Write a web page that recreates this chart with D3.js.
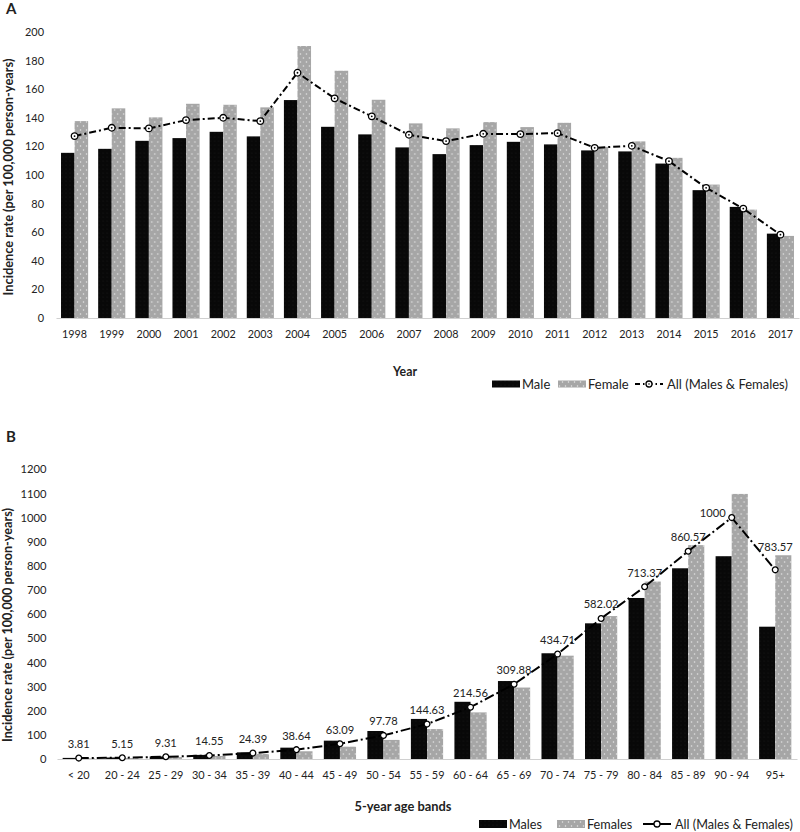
<!DOCTYPE html>
<html><head><meta charset="utf-8">
<script src="https://cdn.jsdelivr.net/npm/d3@7"></script>
<style>
body{margin:0;background:#fff}
text{font-family:Lato,"Open Sans",sans-serif;fill:#222}
</style>
</head><body><svg id="c" width="800" height="832"></svg>
<script>
// ---------- Panel A data ----------
const years = ["1998","1999","2000","2001","2002","2003","2004","2005","2006","2007","2008","2009","2010","2011","2012","2013","2014","2015","2016","2017"];
const maleA = [115.5,118.3,123.9,125.8,130.2,127.0,152.4,133.7,128.4,119.3,114.6,120.9,123.2,121.4,117.2,116.5,108.0,89.4,77.7,59.0];
const femaleA = [137.7,146.6,140.3,149.8,149.1,147.3,190.2,172.9,152.6,136.1,132.6,137.0,133.5,136.5,119.7,123.5,112.0,93.3,75.8,57.4];
const allA = [127.2,133.0,132.6,138.4,140.0,137.7,171.5,153.6,141.0,128.1,123.7,128.8,128.6,129.3,119.0,120.4,109.7,91.0,76.5,58.3];
const yTicksA = [0,20,40,60,80,100,120,140,160,180,200];

// ---------- Panel B data ----------
const ageBands = ["< 20","20 - 24","25 - 29","30 - 34","35 - 39","40 - 44","45 - 49","50 - 54","55 - 59","60 - 64","65 - 69","70 - 74","75 - 79","80 - 84","85 - 89","90 - 94","95+"];
const maleB = [4.6,6.2,10.5,17,27.6,47,76,116,166,237,323,438,562,667,790,840,548];
const femaleB = [3.0,4.1,8.0,12.5,21,32,51,79,124,193,296,428,592,735,886,1098,844];
const allB = [3.81,5.15,9.31,14.55,24.39,38.64,63.09,97.78,144.63,214.56,309.88,434.71,582.02,713.37,860.57,1000,783.57];
const yTicksB = [0,100,200,300,400,500,600,700,800,900,1000,1100,1200];

const svg = d3.select("#c");
const defs = svg.append("defs");
const pf = defs.append("pattern").attr("id","femaleFill").attr("patternUnits","userSpaceOnUse")
  .attr("width",6).attr("height",8);
pf.append("rect").attr("width",6).attr("height",8).attr("fill","#a6a6a6");
pf.append("circle").attr("cx",1.5).attr("cy",2).attr("r",0.75).attr("fill","#e6e6e6");
pf.append("circle").attr("cx",4.5).attr("cy",6).attr("r",0.75).attr("fill","#e6e6e6");
const pm = defs.append("pattern").attr("id","maleFill").attr("patternUnits","userSpaceOnUse")
  .attr("width",4).attr("height",4);
pm.append("rect").attr("width",4).attr("height",4).attr("fill","#080808");
pm.append("circle").attr("cx",1).attr("cy",1).attr("r",0.6).attr("fill","#181818");

// scale font size of a selection so that a reference node reaches a target width
function fit(sel, refNode, target){
  const fs = parseFloat(d3.select(refNode).attr("font-size"));
  const w = refNode.getComputedTextLength();
  if(w>0){ sel.attr("font-size", (fs*target/w).toFixed(2)); }
}

function panel(cfg){
  const g = svg.append("g");
  const x = d3.scaleBand().domain(cfg.cats).range(cfg.xr).paddingInner(cfg.pad).paddingOuter(cfg.pad/2);
  const xs = d3.scaleBand().domain(["m","f"]).range([0,x.bandwidth()]);
  const y = d3.scaleLinear().domain(cfg.yd).range(cfg.yr);

  const ya = g.append("g").attr("transform",`translate(${cfg.yLabX},0)`)
    .call(d3.axisLeft(y).tickValues(cfg.yTicks).tickFormat(d3.format("d")).tickSize(0).tickPadding(0));
  ya.select(".domain").remove();
  const yt = ya.selectAll("text").attr("font-size",11).attr("font-family","Lato").attr("fill","#222");
  const ytn = yt.nodes();
  fit(yt, ytn[ytn.length-1], cfg.yTickW);

  const grp = g.selectAll(".grp").data(cfg.cats).join("g")
    .attr("transform",d=>`translate(${x(d)},0)`);
  grp.append("rect").attr("x",xs("m")).attr("width",xs.bandwidth())
    .attr("y",(d,i)=>y(cfg.male[i])).attr("height",(d,i)=>y(0)-y(cfg.male[i]))
    .attr("fill","url(#maleFill)");
  grp.append("rect").attr("x",xs("f")).attr("width",xs.bandwidth())
    .attr("y",(d,i)=>y(cfg.female[i])).attr("height",(d,i)=>y(0)-y(cfg.female[i]))
    .attr("fill","url(#femaleFill)");

  const xa = g.append("g").attr("transform",`translate(0,${y(0)})`)
    .call(d3.axisBottom(x).tickSize(0).tickSizeOuter(0).tickPadding(cfg.xPad));
  xa.select(".domain").attr("stroke","#d0d0d0").attr("stroke-width",1.2);
  const xt = xa.selectAll("text").attr("font-size",11).attr("font-family","Lato").attr("fill","#222");
  fit(xt, xt.nodes()[1], cfg.xTickW);

  const cx = d=>x(d)+x.bandwidth()/2;
  const line = d3.line().x((d,i)=>cx(cfg.cats[i])).y(d=>y(d));
  g.append("path").datum(cfg.all).attr("d",line).attr("fill","none")
    .attr("stroke","#000").attr("stroke-width",2).attr("stroke-dasharray",cfg.dash);
  const pts = g.selectAll(".pt").data(cfg.all).join("g")
    .attr("transform",(d,i)=>`translate(${cx(cfg.cats[i])},${y(d)})`);
  pts.append("circle").attr("r",cfg.mr).attr("fill","#fff").attr("stroke","#000").attr("stroke-width",1.3);
  if(cfg.centerDot) pts.append("circle").attr("r",0.9).attr("fill","#000");

  if(cfg.labels){
    const maxV = d3.max(cfg.all);
    const n = cfg.all.length;
    const lb = g.selectAll(".lab").data(cfg.all).join("text")
      .attr("x",(d,i)=> d===maxV ? cx(cfg.cats[i])-6 : cx(cfg.cats[i]))
      .attr("y",(d,i)=> d===maxV ? y(d)-1 : (i===n-1 ? y(d)-19 : y(d)-10))
      .attr("text-anchor",d=> d===maxV ? "end":"middle")
      .attr("font-size",11).attr("fill","#222")
      .text((d,i)=>cfg.labels[i]);
    fit(lb, lb.nodes()[3], 28.5);
  }

  const yTitle = g.append("text").attr("transform",`translate(${cfg.yTitleX},${cfg.yTitleY}) rotate(-90)`)
    .attr("text-anchor","middle").attr("font-weight","bold").attr("font-size",12.5)
    .text("Incidence rate (per 100,000 person-years)");
  fit(yTitle, yTitle.node(), cfg.yTitleW);
  const xTitle = g.append("text").attr("x",cfg.xTitleX).attr("y",cfg.xTitleY).attr("text-anchor","middle")
    .attr("font-weight","bold").attr("font-size",12).text(cfg.xTitle);
  fit(xTitle, xTitle.node(), cfg.xTitleW);
  g.append("text").attr("x",6).attr("y",cfg.letterY).attr("font-family","Liberation Sans, Arial")
    .attr("font-weight","bold").attr("font-size",15).attr("fill","#000").text(cfg.letter);

  const L = cfg.legend;
  const lg = g.append("g").attr("transform",`translate(0,${L.y})`);
  lg.append("rect").attr("x",L.x[0]).attr("y",-L.h/2).attr("width",L.w).attr("height",L.h).attr("fill","url(#maleFill)");
  lg.append("rect").attr("x",L.x[1]).attr("y",-L.h/2).attr("width",L.w).attr("height",L.h).attr("fill","url(#femaleFill)");
  lg.append("line").attr("x1",L.x[2]).attr("x2",L.x[2]+L.w).attr("y1",0).attr("y2",0)
    .attr("stroke","#000").attr("stroke-width",2).attr("stroke-dasharray",L.dash);
  lg.append("circle").attr("cx",L.x[2]+L.w/2).attr("cy",0).attr("r",3).attr("fill","#fff").attr("stroke","#000").attr("stroke-width",1.3);
  if(cfg.centerDot) lg.append("circle").attr("cx",L.x[2]+L.w/2).attr("cy",0).attr("r",0.8).attr("fill","#000");
  const lt = lg.selectAll(".lt").data(L.names).join("text")
    .attr("x",(d,i)=>L.x[i]+L.w+(i===2?4:2)).attr("y",4.6).attr("font-size",13).text(d=>d);
  fit(lt, lt.nodes()[2], L.allW);
}

panel({
  cats: years, male: maleA, female: femaleA, all: allA,
  xr:[56,799], pad:0.27, yd:[0,200], yr:[318,32], yTicks:yTicksA, yLabX:44, yTickW:19, xTickW:25,
  xPad:12, dash:"7,3,2,3", centerDot:true, labels:null, mr:3.3,
  yTitleX:13, yTitleY:177, yTitleW:237, xTitleX:405, xTitleY:376, xTitleW:24, xTitle:"Year", letter:"A", letterY:14,
  legend:{y:384, x:[492,558,635], w:28, h:7, allW:121, dash:"5,3,1.5,3", names:["Male","Female","All (Males & Females)"]}
});
panel({
  cats: ageBands, male: maleB, female: femaleB, all: allB,
  xr:[57,797], pad:0.26, yd:[0,1200], yr:[759,469.3], yTicks:yTicksB, yLabX:46.5, yTickW:26, xTickW:35,
  xPad:12, dash:"10,3,2,3", centerDot:false, labels:allB.map(String), mr:2.9,
  yTitleX:12, yTitleY:625, yTitleW:234, xTitleX:403, xTitleY:811, xTitleW:97, xTitle:"5-year age bands", letter:"B", letterY:442,
  legend:{y:824, x:[479,557,643], w:28, h:8, allW:118, dash:null, names:["Males","Females","All (Males & Females)"]}
});
</script></body></html>
